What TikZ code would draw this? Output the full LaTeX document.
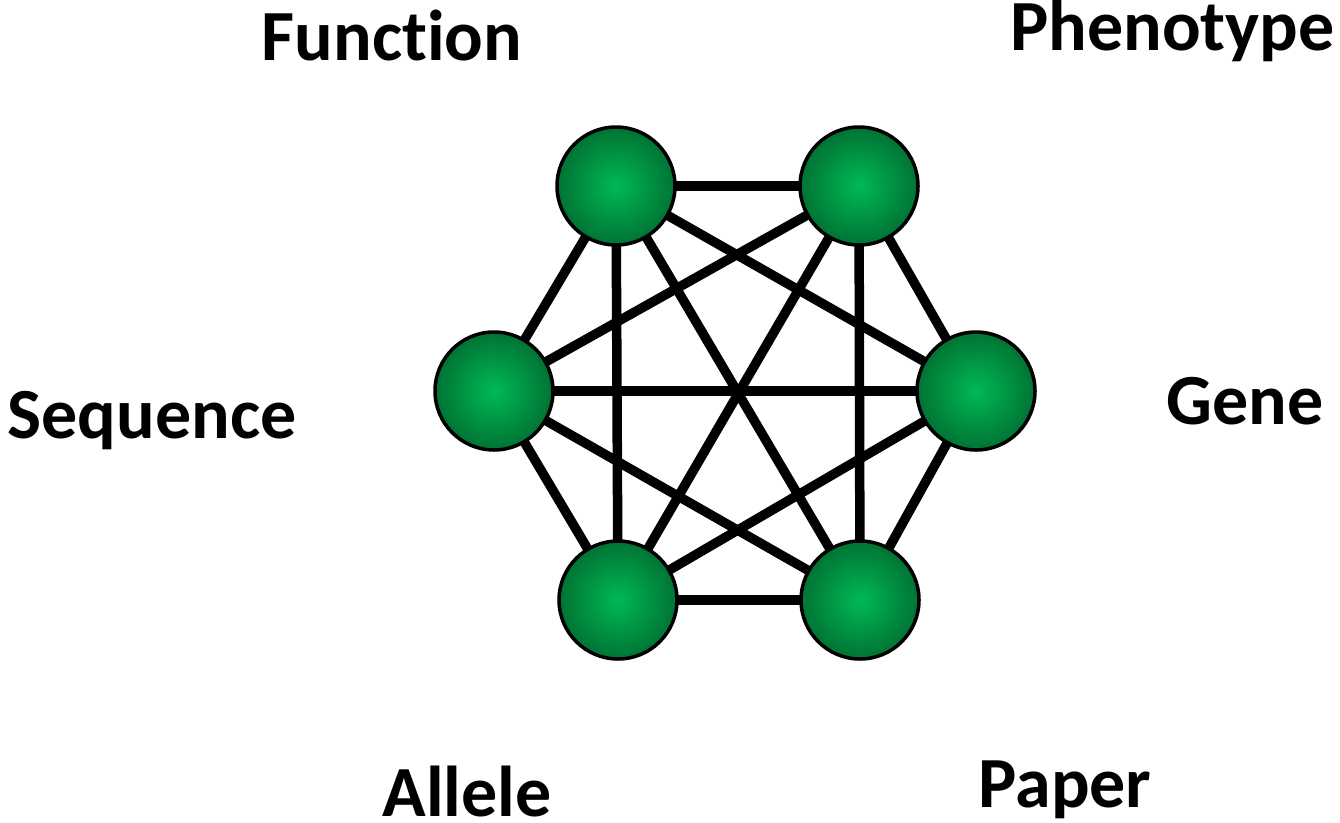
\documentclass[tikz,border=0pt]{standalone}
\usepackage{fontspec}
\setmainfont[Ligatures=NoCommon]{Carlito}
\usetikzlibrary{backgrounds}
\definecolor{ballin}{RGB}{0,185,85}
\definecolor{ballout}{RGB}{0,115,52}
\tikzset{
  ballnode/.style={circle, minimum size=118pt, inner sep=0pt, draw=black, line width=3.5pt,
    shading=radial, inner color=ballin, outer color=ballout},
  edge/.style={line width=9.5pt, black},
  lbl/.style={font=\fontsize{72}{80}\selectfont\bfseries, anchor=base, inner sep=0pt}
}
\begin{document}
\begin{tikzpicture}[x=1pt,y=-1pt]
\useasboundingbox (0,0) rectangle (1340,822);
\node[ballnode] (tl) at (616,186) {};
\node[ballnode] (tr) at (859,186) {};
\node[ballnode] (l) at (494,391) {};
\node[ballnode] (r) at (976,391) {};
\node[ballnode] (bl) at (618,600) {};
\node[ballnode] (br) at (860,600) {};
\begin{scope}[on background layer]
\fill[white] (0,0) rectangle (1340,822);
\foreach \a/\b in {tl/tr,tl/l,tl/r,tl/bl,tl/br,tr/l,tr/r,tr/bl,tr/br,l/r,l/bl,l/br,r/bl,r/br,bl/br}
  \draw[edge] (\a.center) -- (\b.center);
\end{scope}
\node[lbl] (function) at (392,60) {Function};
\node[lbl, anchor=base west] (phenotype) at (1010,50) {Phenotype};
\node[lbl] (sequence) at (152,438) {Sequence};
\node[lbl] (gene) at (1245,424) {Gene};
\node[lbl] (allele) at (467,816) {Allele};
\node[lbl] (paper) at (1065,807) {Paper};
\end{tikzpicture}
\end{document}
